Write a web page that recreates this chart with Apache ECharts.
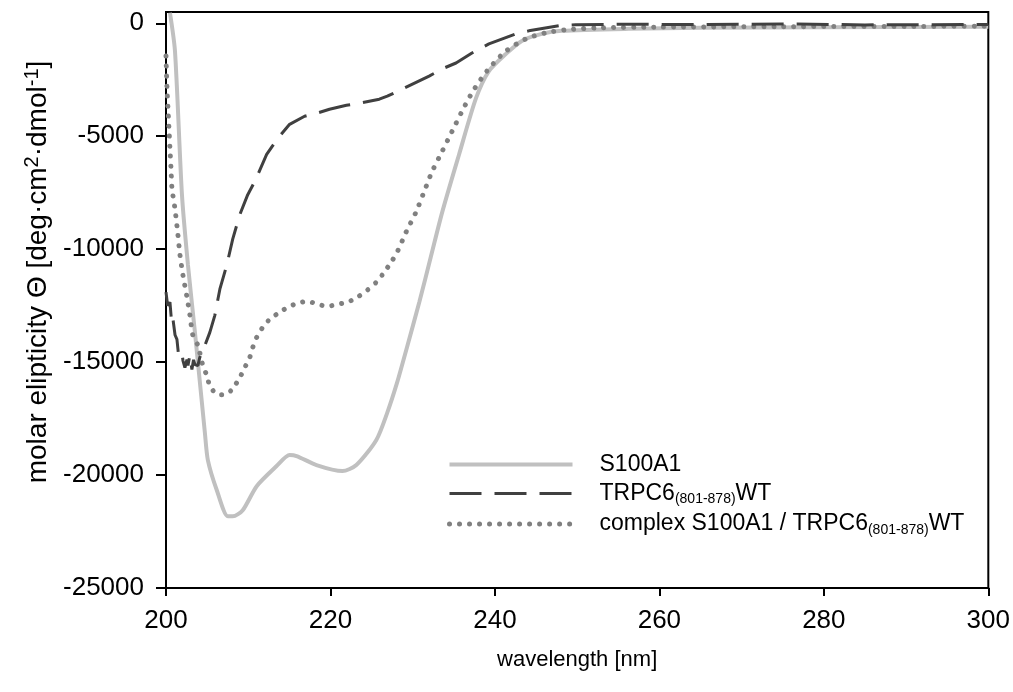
<!DOCTYPE html>
<html>
<head>
<meta charset="utf-8">
<script src="https://cdn.jsdelivr.net/npm/echarts@6/dist/echarts.min.js"></script>
<style>
html,body{margin:0;padding:0;background:#fff;}
#chart{width:1013px;height:692px;}
</style>
</head>
<body>
<div id="chart"></div>
<script>
// ---- data ----
const yTicks = [-25000, -20000, -15000, -10000, -5000, 0];
const xTicks = [200, 220, 240, 260, 280, 300];

const s100Wl  = [200.48, 201.09, 201.94, 202.67, 203.52, 204.73, 205.09, 206.18, 207.52, 208.12, 209.33, 211.03, 213.45, 215.03, 215.88, 218.30, 221.45, 223.15, 225.58, 226.9, 228.1, 229.3, 230.8, 232.2, 233.6, 235.64, 237.70, 239.27, 241.33, 243.27, 245.70, 248.12, 256.24, 265, 280, 300];
const s100Val = [467, -1224, -7587, -10702, -13684, -18134, -19335, -20671, -21828, -21828, -21560, -20492, -19602, -19113, -19158, -19558, -19825, -19558, -18446, -17245, -15910, -14350, -12350, -10350, -8350, -5807, -3315, -2114, -1357, -779, -467, -334, -245, -200, -170, -150];

const trpcWl  = [200.0, 200.2, 200.48, 200.7, 200.85, 201.1, 201.33, 201.5, 201.70, 201.94, 202.06, 202.30, 202.55, 202.67, 202.9, 203.15, 203.35, 203.52, 203.88, 204.1, 204.36, 204.73, 205.33, 205.94, 206.55, 207.39, 208.12, 208.97, 209.94, 210.79, 212.24, 213.58, 215.03, 216.85, 218.30, 219.88, 221.94, 223.52, 225.94, 226.91, 228.73, 232.00, 233.82, 235.27, 237.21, 239.27, 242.55, 244.12, 247.76, 249.82, 256.24, 265, 275, 285, 300];
const trpcVal = [-11904, -12500, -12349, -13300, -13105, -13800, -13995, -14600, -14707, -14574, -14930, -15241, -14885, -15152, -14700, -15330, -14900, -15108, -15152, -14800, -14574, -14263, -13684, -12928, -11770, -10702, -9545, -8477, -7587, -7009, -5807, -5095, -4472, -4116, -3983, -3805, -3627, -3538, -3360, -3226, -2915, -2336, -1980, -1758, -1313, -912, -467, -334, -111, -67, -40, -60, -30, -70, -50];

const cmplxWl  = [200.0, 200.12, 200.24, 200.36, 200.48, 200.61, 200.73, 201.09, 201.45, 201.70, 202.06, 202.55, 202.91, 203.27, 203.88, 204.48, 204.97, 205.33, 206.30, 207.15, 208.00, 208.97, 209.58, 210.18, 210.55, 211.03, 211.76, 212.61, 213.82, 214.79, 216.00, 217.21, 218.42, 219.64, 220.85, 222.06, 223.27, 224.48, 225.58, 226.55, 227.39, 228.12, 229.21, 230.42, 231.39, 232.36, 233.58, 234.79, 236.00, 237.33, 239.03, 241.21, 243.76, 246.18, 248.61, 252.6, 260, 275, 290, 300];
const cmplxVal = [-1450, -2870, -3760, -4650, -5540, -6430, -7320, -8210, -9367, -10257, -11147, -12126, -12927, -13817, -14262, -15152, -15597, -16042, -16443, -16443, -16220, -15686, -15241, -14796, -14351, -13906, -13461, -13105, -12794, -12572, -12394, -12305, -12438, -12527, -12438, -12349, -12127, -11815, -11459, -11014, -10569, -10124, -9234, -8344, -7454, -6564, -5674, -4784, -3894, -3004, -2114, -1268, -690, -423, -289, -200, -170, -150, -140, -130];

const names = ['S100A1', 'TRPC6_(801-878)WT', 'complex S100A1 / TRPC6_(801-878)WT'];

const pairs = (xs, ys) => xs.map((x, i) => [x, ys[i]]);
const FONT = "'Liberation Sans', Arial, sans-serif";

const styles = {
  s100: {color: '#c0c0c0', width: 4, type: 'solid'},
  cmplx: {color: '#808080', width: 5, type: [0.01, 10], cap: 'round'},
  trpc: {color: '#404040', width: 3, type: [32, 13]}
};

const chart = echarts.init(document.getElementById('chart'), null, {renderer: 'canvas'});
chart.setOption({
  animation: false,
  backgroundColor: '#fff',
  grid: {left: 166, right: 23, top: 12, bottom: 104, show: true, borderColor: '#000', borderWidth: 2, backgroundColor: 'transparent'},
  xAxis: {
    type: 'value', min: 200, max: 300, interval: 20,
    name: 'wavelength [nm]', nameLocation: 'middle', nameGap: 61,
    nameTextStyle: {fontFamily: FONT, fontSize: 22, color: '#000'},
    axisLine: {show: true, onZero: false, lineStyle: {color: '#000', width: 2}},
    axisTick: {show: true, inside: false, length: 8, lineStyle: {color: '#000', width: 2}},
    axisLabel: {fontFamily: FONT, fontSize: 26, color: '#000', margin: 20},
    splitLine: {show: false}
  },
  yAxis: {
    type: 'value', min: -25000, max: 500,
    name: 'molar elipticity Θ [deg·cm{sup|2}·dmol{sup|-1}]',
    nameLocation: 'middle', nameGap: 104, nameRotate: 90,
    nameTextStyle: {fontFamily: FONT, fontSize: 28, color: '#000', padding: [0, 0, 0, 56],
      rich: {sup: {fontFamily: FONT, fontSize: 20, color: '#000', verticalAlign: 'top', padding: [0, 0, 12, 0]}}},
    axisLine: {show: true, onZero: false, lineStyle: {color: '#000', width: 2}},
    axisTick: {show: true, inside: false, length: 10, customValues: yTicks, lineStyle: {color: '#000', width: 2}},
    axisLabel: {fontFamily: FONT, fontSize: 26, color: '#000', margin: 22, customValues: yTicks,
      formatter: function (v) { return String(v); }},
    splitLine: {show: false}
  },
  legend: {
    orient: 'vertical', left: 447, top: 453, padding: 0,
    itemWidth: 123, itemHeight: 14, itemGap: 6,
    itemStyle: {opacity: 0},
    data: [
      {name: names[0], lineStyle: styles.s100, itemStyle: {opacity: 0}},
      {name: names[1], lineStyle: styles.trpc, itemStyle: {opacity: 0}},
      {name: names[2], lineStyle: styles.cmplx, itemStyle: {opacity: 0}}
    ],
    formatter: function (n) {
      if (n.indexOf('_') < 0) return '{n|' + n + '}';
      const p = n.split('_');
      const rest = p[1].split(')');
      return '{n|' + p[0] + '}{s|' + rest[0] + ')}{n|' + rest[1] + '}';
    },
    textStyle: {
      fontFamily: FONT, fontSize: 23, color: '#000', padding: [0, 0, 0, 22],
      rich: {
        n: {fontFamily: FONT, fontSize: 23, color: '#000', lineHeight: 26},
        s: {fontFamily: FONT, fontSize: 14, color: '#000', lineHeight: 26, verticalAlign: 'bottom', padding: [10, 0, 0, 0]}
      }
    }
  },
  series: [
    {
      name: names[0], type: 'line', symbol: 'none', smooth: 0.25, data: pairs(s100Wl, s100Val),
      lineStyle: styles.s100, itemStyle: {color: styles.s100.color}, z: 2
    },
    {
      name: names[2], type: 'line', symbol: 'none', smooth: 0.25, data: pairs(cmplxWl, cmplxVal),
      lineStyle: styles.cmplx, itemStyle: {color: styles.cmplx.color}, z: 3
    },
    {
      name: names[1], type: 'line', symbol: 'none', data: pairs(trpcWl, trpcVal),
      lineStyle: styles.trpc, itemStyle: {color: styles.trpc.color}, z: 4
    }
  ]
});
</script>
</body>
</html>
